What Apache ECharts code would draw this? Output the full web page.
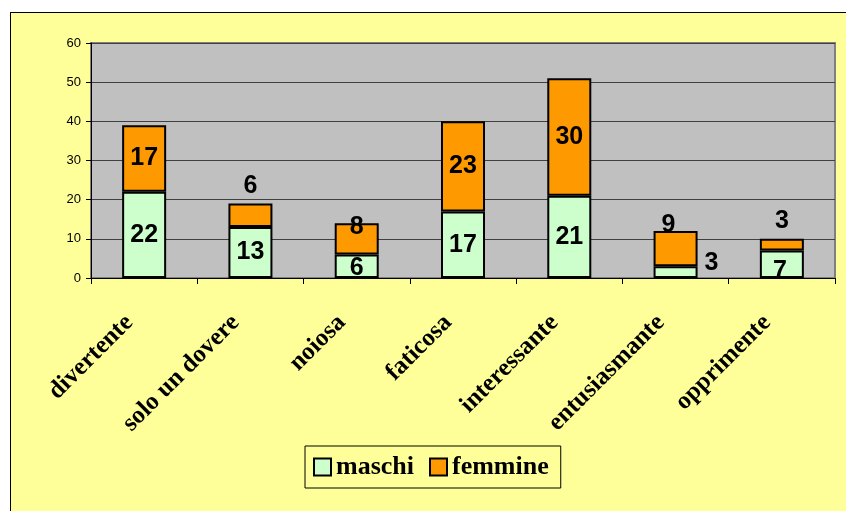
<!DOCTYPE html>
<html>
<head>
<meta charset="utf-8">
<script src="https://cdn.jsdelivr.net/npm/echarts@6/dist/echarts.min.js"></script>
<style>
  body { margin: 0; background: #fff; }
  .wrap { position: relative; width: 846px; height: 511px; overflow: hidden; }
  .frame { position: absolute; left: 10px; top: 12px; width: 900px; height: 600px;
           border: 1px solid #000; background: #FFFF99; }
  #main { position: absolute; left: 0; top: 0; width: 846px; height: 511px; }
</style>
</head>
<body>
<div class="wrap">
  <div class="frame"></div>
  <div id="main"></div>
</div>
<script>
// dati
var categories = ['divertente', 'solo un dovere', 'noiosa', 'faticosa', 'interessante', 'entusiasmante', 'opprimente'];
var maschi = [22, 13, 6, 17, 21, 3, 7];
var femmine = [17, 6, 8, 23, 30, 9, 3];
var yTicks = { min: 0, max: 60, interval: 10 };

// posizione delle etichette (come nel grafico originale)
var maschiLabelPos = [
  { position: 'inside' }, { position: 'inside' }, { position: 'inside', offset: [0, 2] },
  { position: 'inside' }, { position: 'inside' }, { position: 'right', offset: [2, -9] },
  { position: 'inside', offset: [-2, 7] }
];
var femmineLabelPos = [
  { position: 'inside' }, { position: 'top' }, { position: 'inside', offset: [0, -12] },
  { position: 'inside' }, { position: 'inside' }, { position: 'inside', offset: [-7, -24] },
  { position: 'top' }
];

function buildData(values, pos) {
  return values.map(function (v, i) {
    return { value: v, label: pos[i] };
  });
}

var myChart = echarts.init(document.getElementById('main'));
var labelStyle = {
  show: true,
  color: '#000',
  fontFamily: 'Arial, "Liberation Sans"',
  fontWeight: 'bold',
  fontSize: 25
};

var option = {
  backgroundColor: 'transparent',
  animation: false,
  grid: {
    show: true,
    left: 91,
    right: 11,
    top: 43,
    bottom: 233,
    backgroundColor: '#C0C0C0',
    borderColor: '#808080',
    borderWidth: 2
  },
  legend: {
    left: 305,
    top: 446,
    padding: [8, 12, 8, 8],
    itemGap: 15,
    itemWidth: 17,
    itemHeight: 17,
    icon: 'rect',
    borderColor: '#000',
    borderWidth: 1,
    textStyle: {
      fontFamily: '"Times New Roman", "Liberation Serif", serif',
      fontWeight: 'bold',
      fontSize: 26,
      color: '#000'
    },
    data: ['maschi', 'femmine']
  },
  xAxis: {
    type: 'category',
    data: categories,
    axisLine: { lineStyle: { color: '#000', width: 1 } },
    axisTick: { show: true, length: 6, lineStyle: { color: '#000' } },
    axisLabel: {
      rotate: 45,
      margin: 26,
      padding: [0, 21, 0, 0],
      interval: 0,
      color: '#000',
      fontFamily: '"Times New Roman", "Liberation Serif", serif',
      fontWeight: 'bold',
      fontSize: 25
    }
  },
  yAxis: {
    type: 'value',
    min: yTicks.min,
    max: yTicks.max,
    interval: yTicks.interval,
    axisLine: { show: true, lineStyle: { color: '#000', width: 1 } },
    axisTick: { show: true, length: 5, lineStyle: { color: '#000' } },
    axisLabel: {
      margin: 10,
      color: '#000',
      fontFamily: 'Arial, "Liberation Sans"',
      fontSize: 13
    },
    splitLine: { lineStyle: { color: '#404040', width: 1 } }
  },
  series: [
    {
      name: 'maschi',
      type: 'bar',
      stack: 'tot',
      barWidth: 44,
      itemStyle: { color: '#CCFFCC', borderColor: '#000', borderWidth: 2 },
      label: labelStyle,
      data: buildData(maschi, maschiLabelPos)
    },
    {
      name: 'femmine',
      type: 'bar',
      stack: 'tot',
      barWidth: 44,
      itemStyle: { color: '#FF9900', borderColor: '#000', borderWidth: 2 },
      label: labelStyle,
      data: buildData(femmine, femmineLabelPos)
    }
  ]
};
myChart.setOption(option);
</script>
</body>
</html>
